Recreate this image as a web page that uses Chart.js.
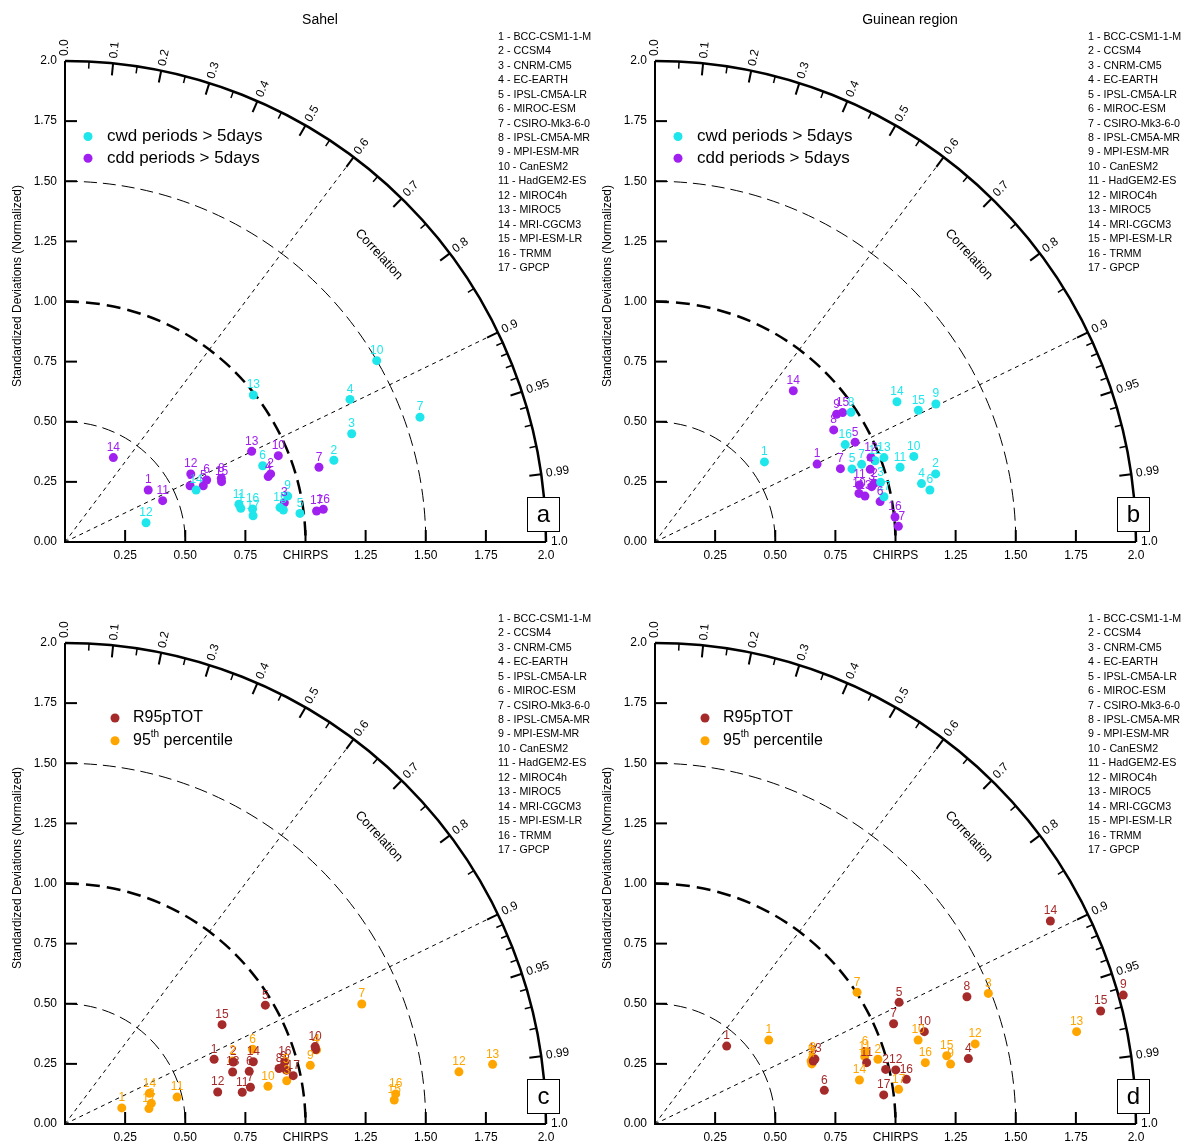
<!DOCTYPE html>
<html>
<head>
<meta charset="utf-8">
<script src="https://cdn.jsdelivr.net/npm/chart.js@4.4.0/dist/chart.umd.min.js"></script>
<style>
  body { margin: 0; background: #fff; }
  #wrap { position: relative; width: 1184px; height: 1146px; overflow: hidden; }
  canvas { position: absolute; }
</style>
</head>
<body>
<div id="wrap">
  <canvas id="panelA" width="594" height="564" style="left:0;top:0"></canvas>
  <canvas id="panelB" width="594" height="564" style="left:590px;top:0"></canvas>
  <canvas id="panelC" width="594" height="564" style="left:0;top:582px"></canvas>
  <canvas id="panelD" width="594" height="564" style="left:590px;top:582px"></canvas>
</div>
<script>
// Model numbers / names (same list on every panel)
const modelNums = [1, 2, 3, 4, 5, 6, 7, 8, 9, 10, 11, 12, 13, 14, 15, 16, 17];
const modelNames = ['BCC-CSM1-1-M', 'CCSM4', 'CNRM-CM5', 'EC-EARTH', 'IPSL-CM5A-LR', 'MIROC-ESM',
    'CSIRO-Mk3-6-0', 'IPSL-CM5A-MR', 'MPI-ESM-MR', 'CanESM2', 'HadGEM2-ES', 'MIROC4h', 'MIROC5',
    'MRI-CGCM3', 'MPI-ESM-LR', 'TRMM', 'GPCP'];

// Axis ticks
const stdTicks = [0.25, 0.5, 0.75, 1.0, 1.25, 1.5, 1.75, 2.0];
const stdTickLabelsY = ['0.25', '0.50', '0.75', '1.00', '1.25', '1.50', '1.75', '2.0'];
const stdTickLabelsX = ['0.25', '0.50', '0.75', 'CHIRPS', '1.25', '1.50', '1.75', '2.0'];
const corrMajor = [0.1, 0.2, 0.3, 0.4, 0.5, 0.6, 0.7, 0.8, 0.9, 0.95, 0.99];
const corrMinor = [0.05, 0.15, 0.25, 0.35, 0.45, 0.55, 0.65, 0.75, 0.85, 0.91, 0.92, 0.93, 0.94, 0.96, 0.97, 0.98];
const corrLabelVals = [0.0, 0.1, 0.2, 0.3, 0.4, 0.5, 0.6, 0.7, 0.8, 0.9, 0.95, 0.99, 1.0];
const corrLabels = ['0.0', '0.1', '0.2', '0.3', '0.4', '0.5', '0.6', '0.7', '0.8', '0.9', '0.95', '0.99', '1.0'];
const corrLines = [0.6, 0.9];
const stdArcs = [0.5, 1.0, 1.5];

// (a) Sahel - cwd / cdd  (normalized std projected on x / y)
const cwdSahelX = [0.731, 1.118, 1.192, 1.185, 0.977, 0.822, 1.476, 0.908, 0.926, 1.296, 0.723, 0.337, 0.783, 0.545, 0.894, 0.780, 0.782];
const cwdSahelY = [0.140, 0.340, 0.450, 0.593, 0.119, 0.317, 0.519, 0.133, 0.191, 0.754, 0.157, 0.080, 0.611, 0.216, 0.143, 0.137, 0.109];
const cddSahelX = [0.346, 0.855, 0.912, 0.845, 0.575, 0.589, 1.056, 0.650, 0.520, 0.887, 0.406, 0.523, 0.776, 0.201, 0.651, 1.074, 1.046];
const cddSahelY = [0.216, 0.283, 0.163, 0.272, 0.234, 0.258, 0.311, 0.265, 0.234, 0.359, 0.172, 0.283, 0.377, 0.351, 0.251, 0.136, 0.129];

// (b) Guinean region - cwd / cdd
const cwdGuinX = [0.455, 1.167, 0.938, 1.108, 0.819, 1.143, 0.859, 0.815, 1.168, 1.076, 1.019, 0.915, 0.952, 1.006, 1.095, 0.791, 0.952];
const cwdGuinY = [0.333, 0.283, 0.248, 0.243, 0.304, 0.216, 0.323, 0.539, 0.574, 0.356, 0.311, 0.338, 0.351, 0.583, 0.548, 0.405, 0.188];
const cddGuinX = [0.674, 0.912, 0.901, 0.895, 0.832, 0.936, 0.771, 0.743, 0.755, 0.848, 0.850, 0.898, 0.873, 0.575, 0.780, 0.998, 1.012];
const cddGuinY = [0.324, 0.244, 0.230, 0.302, 0.415, 0.168, 0.305, 0.466, 0.531, 0.202, 0.237, 0.352, 0.191, 0.629, 0.538, 0.104, 0.065];

// (c) Sahel - R95pTOT / 95th percentile
const r95SahelX = [0.620, 0.700, 0.921, 1.042, 0.833, 0.766, 0.771, 0.890, 0.908, 1.040, 0.737, 0.635, 0.697, 0.783, 0.653, 0.914, 0.949];
const r95SahelY = [0.269, 0.258, 0.224, 0.310, 0.494, 0.219, 0.153, 0.231, 0.238, 0.322, 0.132, 0.133, 0.216, 0.259, 0.413, 0.259, 0.201];
const p95SahelX = [0.236, 0.697, 0.922, 1.046, 0.919, 0.780, 1.234, 0.359, 1.020, 0.844, 0.466, 1.638, 1.778, 0.351, 1.369, 1.375, 0.349];
const p95SahelY = [0.067, 0.262, 0.180, 0.308, 0.225, 0.311, 0.499, 0.086, 0.244, 0.157, 0.112, 0.217, 0.248, 0.128, 0.100, 0.125, 0.064];

// (d) Guinean region - R95pTOT / 95th percentile
const r95GuinX = [0.298, 0.959, 0.658, 1.303, 1.015, 0.704, 0.992, 1.297, 1.947, 1.120, 0.880, 1.001, 0.665, 1.644, 1.853, 1.045, 0.951];
const r95GuinY = [0.324, 0.227, 0.262, 0.272, 0.506, 0.140, 0.417, 0.529, 0.536, 0.384, 0.255, 0.225, 0.270, 0.844, 0.470, 0.186, 0.121];
const p95GuinX = [0.473, 0.927, 1.386, 0.652, 0.649, 0.874, 0.840, 0.655, 1.229, 1.094, 0.872, 1.331, 1.753, 0.850, 1.213, 1.124, 1.013];
const p95GuinY = [0.349, 0.269, 0.543, 0.250, 0.262, 0.301, 0.548, 0.275, 0.249, 0.349, 0.280, 0.333, 0.384, 0.183, 0.284, 0.255, 0.144];

const FONT = '"Liberation Sans", Arial, Helvetica, sans-serif';
const colors = {
    cyan: '#1fe6ea',
    purple: '#a020f0',
    brown: '#a52a2a',
    orange: '#ffa500'
};

function toPoints(xs, ys) {
    return xs.map((x, i) => ({ x: x, y: ys[i] }));
}

// Taylor diagram frame: arcs, correlation rays, axes, ticks and texts
const taylorPlugin = {
    id: 'taylor',
    beforeDatasetsDraw(chart, args, opts) {
        const ctx = chart.ctx;
        const ox = chart.scales.x.getPixelForValue(0);
        const oy = chart.scales.y.getPixelForValue(0);
        const R = chart.scales.x.getPixelForValue(1) - ox;
        const polar = (r, c, extraPx) => {
            const t = Math.acos(c);
            const rr = r * R + (extraPx || 0);
            return [ox + rr * Math.cos(t), oy - rr * Math.sin(t)];
        };

        ctx.save();
        ctx.strokeStyle = '#000';
        ctx.fillStyle = '#000';

        // std dev arcs (dashed)
        stdArcs.forEach(r => {
            ctx.beginPath();
            ctx.lineWidth = r === 1.0 ? 2.5 : 1;
            ctx.setLineDash(r === 1.0 ? [14, 7] : [13, 6]);
            ctx.arc(ox, oy, r * R, -Math.PI / 2, 0);
            ctx.stroke();
        });

        // correlation rays (dotted)
        ctx.lineWidth = 1;
        ctx.setLineDash([4, 4]);
        corrLines.forEach(c => {
            const p = polar(2, c);
            ctx.beginPath();
            ctx.moveTo(ox, oy);
            ctx.lineTo(p[0], p[1]);
            ctx.stroke();
        });
        ctx.setLineDash([]);

        // outer arc
        ctx.lineWidth = 2.5;
        ctx.beginPath();
        ctx.arc(ox, oy, 2 * R, -Math.PI / 2, 0);
        ctx.stroke();

        // axes
        ctx.lineWidth = 2;
        ctx.beginPath();
        ctx.moveTo(ox, oy - 2 * R);
        ctx.lineTo(ox, oy);
        ctx.lineTo(ox + 2 * R, oy);
        ctx.stroke();

        // correlation ticks (pointing inwards)
        ctx.lineWidth = 2;
        corrMajor.forEach(c => {
            const a = polar(2, c), b = polar(2, c, -12);
            ctx.beginPath(); ctx.moveTo(a[0], a[1]); ctx.lineTo(b[0], b[1]); ctx.stroke();
        });
        ctx.lineWidth = 1.5;
        corrMinor.forEach(c => {
            const a = polar(2, c), b = polar(2, c, -7);
            ctx.beginPath(); ctx.moveTo(a[0], a[1]); ctx.lineTo(b[0], b[1]); ctx.stroke();
        });

        // std ticks on both axes
        ctx.lineWidth = 2;
        stdTicks.slice(0, -1).forEach(v => {
            const px = v * R;
            ctx.beginPath(); ctx.moveTo(ox, oy - px); ctx.lineTo(ox + 12, oy - px); ctx.stroke();
            ctx.beginPath(); ctx.moveTo(ox + px, oy); ctx.lineTo(ox + px, oy - 12); ctx.stroke();
        });

        // tick labels
        ctx.font = '12px ' + FONT;
        ctx.textAlign = 'right';
        ctx.textBaseline = 'middle';
        ctx.fillText('0.00', ox - 8, oy);
        stdTicks.forEach((v, i) => ctx.fillText(stdTickLabelsY[i], ox - 8, oy - v * R));
        ctx.textAlign = 'center';
        ctx.textBaseline = 'top';
        stdTicks.forEach((v, i) => ctx.fillText(stdTickLabelsX[i], ox + v * R, oy + 8));

        // correlation labels, radial orientation
        ctx.textAlign = 'left';
        ctx.textBaseline = 'middle';
        corrLabelVals.forEach((c, i) => {
            const p = polar(2, c, 5);
            ctx.save();
            ctx.translate(p[0], p[1]);
            ctx.rotate(-Math.acos(c));
            ctx.fillText(corrLabels[i], 0, 0);
            ctx.restore();
        });

        // "Correlation" along the arc
        const cp = polar(1.77, Math.cos(42.5 * Math.PI / 180));
        ctx.save();
        ctx.translate(cp[0], cp[1]);
        ctx.rotate((90 - 42.5) * Math.PI / 180);
        ctx.textAlign = 'center';
        ctx.font = '13px ' + FONT;
        ctx.fillText('Correlation', 0, 0);
        ctx.restore();

        // y title
        ctx.save();
        ctx.translate(ox - 47, oy - 256);
        ctx.rotate(-Math.PI / 2);
        ctx.textAlign = 'center';
        ctx.font = '12px ' + FONT;
        ctx.fillText('Standardized Deviations (Normalized)', 0, 0);
        ctx.restore();

        // panel title
        if (opts.title) {
            ctx.textAlign = 'center';
            ctx.font = '14px ' + FONT;
            ctx.fillText(opts.title, 320, 20);
        }

        // model list
        ctx.textAlign = 'left';
        ctx.font = '10.7px ' + FONT;
        modelNames.forEach((n, i) => ctx.fillText(modelNums[i] + ' - ' + n, 498, 37 + i * 14.44));

        // panel letter box
        ctx.fillStyle = '#fff';
        ctx.lineWidth = 1;
        ctx.fillRect(ox + 462, oy - 45, 32, 34);
        ctx.strokeRect(ox + 462.5, oy - 44.5, 32, 34);
        ctx.fillStyle = '#000';
        ctx.textAlign = 'center';
        ctx.font = '24px ' + FONT;
        ctx.fillText(opts.letter, ox + 478.5, oy - 27);

        ctx.restore();
    },
    afterDatasetsDraw(chart, args, opts) {
        const ctx = chart.ctx;
        ctx.save();
        // number labels above each point
        ctx.font = '12px ' + FONT;
        ctx.textAlign = 'center';
        ctx.textBaseline = 'middle';
        chart.data.datasets.forEach((ds, i) => {
            ctx.fillStyle = ds.backgroundColor;
            chart.getDatasetMeta(i).data.forEach((pt, j) => {
                ctx.fillText(String(modelNums[j]), pt.x, pt.y - 10);
            });
        });

        // legend
        const lg = opts.legend;
        const big = lg.size + 'px ' + FONT;
        chart.data.datasets.forEach((ds, i) => {
            const y = lg.y + i * lg.step;
            ctx.fillStyle = ds.backgroundColor;
            ctx.beginPath();
            ctx.arc(lg.x, y, 4.5, 0, Math.PI * 2);
            ctx.fill();
            ctx.fillStyle = '#000';
            ctx.textAlign = 'left';
            ctx.font = big;
            if (ds.label === '95th percentile') {
                let x = lg.x + lg.gap;
                ctx.fillText('95', x, y);
                x += ctx.measureText('95').width;
                ctx.font = '10px ' + FONT;
                ctx.fillText('th', x, y - 6);
                x += ctx.measureText('th').width;
                ctx.font = big;
                ctx.fillText(' percentile', x, y);
            } else {
                ctx.fillText(ds.label, lg.x + lg.gap, y);
            }
        });
        ctx.restore();
    }
};

function makeTaylor(canvasId, title, letter, legend, series) {
    const el = document.getElementById(canvasId);
    return new Chart(el.getContext('2d'), {
        type: 'scatter',
        data: {
            datasets: series.map(s => ({
                label: s.name,
                data: toPoints(s.x, s.y),
                backgroundColor: s.color,
                borderColor: s.color,
                borderWidth: 0,
                pointRadius: 4.5,
                clip: false
            }))
        },
        options: {
            responsive: false,
            animation: false,
            events: [],
            layout: { padding: { left: 65, top: 61, right: 48, bottom: 22 } },
            scales: {
                x: { type: 'linear', min: 0, max: 2, display: false },
                y: { type: 'linear', min: 0, max: 2, display: false }
            },
            plugins: {
                legend: { display: false },
                tooltip: { enabled: false },
                taylor: { title: title, letter: letter, legend: legend }
            }
        },
        plugins: [taylorPlugin]
    });
}

makeTaylor('panelA', 'Sahel', 'a', { x: 88, y: 136.5, gap: 19, step: 21.7, size: 17 }, [
    { name: 'cwd periods > 5days', color: colors.cyan, x: cwdSahelX, y: cwdSahelY },
    { name: 'cdd periods > 5days', color: colors.purple, x: cddSahelX, y: cddSahelY }
]);
makeTaylor('panelB', 'Guinean region', 'b', { x: 88, y: 136.5, gap: 19, step: 21.7, size: 17 }, [
    { name: 'cwd periods > 5days', color: colors.cyan, x: cwdGuinX, y: cwdGuinY },
    { name: 'cdd periods > 5days', color: colors.purple, x: cddGuinX, y: cddGuinY }
]);
makeTaylor('panelC', null, 'c', { x: 115, y: 136, gap: 18, step: 22.7, size: 16 }, [
    { name: 'R95pTOT', color: colors.brown, x: r95SahelX, y: r95SahelY },
    { name: '95th percentile', color: colors.orange, x: p95SahelX, y: p95SahelY }
]);
makeTaylor('panelD', null, 'd', { x: 115, y: 136, gap: 18, step: 22.7, size: 16 }, [
    { name: 'R95pTOT', color: colors.brown, x: r95GuinX, y: r95GuinY },
    { name: '95th percentile', color: colors.orange, x: p95GuinX, y: p95GuinY }
]);
</script>
</body>
</html>
